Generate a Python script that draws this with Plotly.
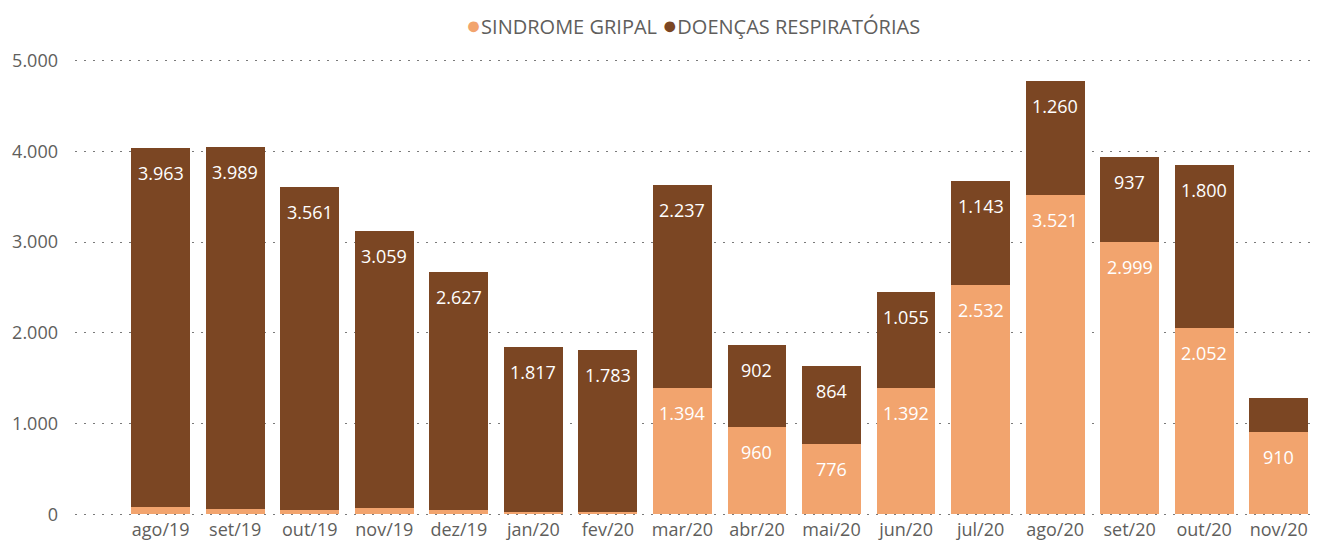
import plotly.graph_objects as go

# ── Data ─────────────────────────────────────
meses = ["ago/19", "set/19", "out/19", "nov/19", "dez/19", "jan/20", "fev/20", "mar/20",
         "abr/20", "mai/20", "jun/20", "jul/20", "ago/20", "set/20", "out/20", "nov/20"]
sindrome_gripal = [75, 60, 48, 65, 44, 26, 27, 1394, 960, 776, 1392, 2532, 3521, 2999, 2052, 910]
doencas_resp = [3963, 3989, 3561, 3059, 2627, 1817, 1783, 2237, 902, 864, 1055, 1143, 1260, 937, 1800, 370]
y_ticks = [0, 1000, 2000, 3000, 4000, 5000]

COR_GRIPAL = "#F2A46E"
COR_DOENCAS = "#7B4623"
COR_TEXTO = "#605E5C"
FONTE = "Open Sans, Segoe UI, sans-serif"
MIN_ROTULO = 500  # Power BI hides labels on small segments


def fmt(v):
    return f"{v:,.0f}".replace(",", ".")


fig = go.Figure()

series = [("SINDROME GRIPAL", sindrome_gripal, COR_GRIPAL),
          ("DOENÇAS RESPIRATÓRIAS", doencas_resp, COR_DOENCAS)]

base = [0] * len(meses)
for nome, vals, cor in series:
    fig.add_trace(go.Bar(
        name=nome, x=meses, y=vals,
        marker=dict(color=cor, line=dict(width=0)),
        showlegend=False,
    ))
    # data labels just below the top of each segment
    for m, b, v in zip(meses, base, vals):
        if v >= MIN_ROTULO:
            fig.add_annotation(
                x=m, y=b + v, text=fmt(v), showarrow=False,
                yanchor="top", yshift=-11,
                font=dict(color="white", size=18, family=FONTE),
            )
    base = [b + v for b, v in zip(base, vals)]

# compact legend (dot right next to the text, as in Power BI)
legenda = (f"<span style='color:{COR_GRIPAL};font-size:25px'>●</span>SINDROME GRIPAL "
           f"<span style='color:{COR_DOENCAS};font-size:25px'>●</span>DOENÇAS RESPIRATÓRIAS")
fig.add_annotation(
    text=legenda, xref="paper", yref="paper", x=0.5, y=1.0, yshift=34,
    xanchor="center", yanchor="middle", showarrow=False,
    font=dict(size=20, color=COR_TEXTO, family=FONTE),
)

# the page body has an 8px margin, so the figure is 8px smaller than the window
fig.update_layout(
    width=1312, height=542,
    barmode="stack",
    bargap=0.21,
    paper_bgcolor="white",
    plot_bgcolor="white",
    font=dict(family=FONTE, color=COR_TEXTO, size=18),
    margin=dict(l=67, r=10, t=50, b=33),
    showlegend=False,
    xaxis=dict(
        range=[-1.15, 15.42], showgrid=False, showline=False, automargin=False,
        tickfont=dict(size=18, color=COR_TEXTO), ticks="",
    ),
    yaxis=dict(
        range=[-30, 5030], tickvals=y_ticks, ticktext=[fmt(v) for v in y_ticks],
        showgrid=True, gridcolor="#7a7a7a", gridwidth=1.3, griddash="2px,7px",
        zeroline=False, showline=False, automargin=False,
        tickfont=dict(size=18, color=COR_TEXTO), ticklabelstandoff=16,
    ),
)

fig.write_html("out.html")
